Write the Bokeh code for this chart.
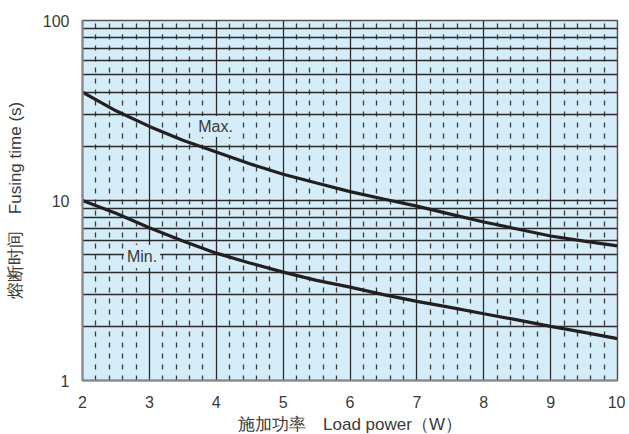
from bokeh.plotting import figure
from bokeh.models import FixedTicker, Grid, Label, Range1d
from bokeh.embed import file_html
from bokeh.resources import INLINE

power = [2, 2.5, 3, 3.5, 4, 4.5, 5, 5.5, 6, 6.5, 7, 7.5, 8, 8.5, 9, 9.5, 10]
t_max = [40, 31.5, 25.8, 21.6, 18.6, 16.0, 14.0, 12.5, 11.2, 10.2, 9.3, 8.4, 7.6, 6.95, 6.35, 5.95, 5.6]
t_min = [10, 8.5, 7.05, 5.95, 5.1, 4.5, 4.0, 3.6, 3.3, 3.0, 2.75, 2.55, 2.35, 2.17, 2.0, 1.85, 1.71]

x_ticks = [2, 3, 4, 5, 6, 7, 8, 9, 10]
x_minor = [round(2 + 0.2 * i, 1) for i in range(41) if i % 5 != 0]
y_ticks = [1, 10, 100]
y_grid = [1, 2, 3, 4, 5, 6, 7, 8, 9, 10, 20, 30, 40, 50, 60, 70, 80, 90, 100]

FONT = "Liberation Sans"
TXT = "#3a3a3a"

p = figure(frame_width=535, frame_height=360, y_axis_type="log",
           x_range=Range1d(2, 10), y_range=Range1d(1, 100),
           output_backend="svg", toolbar_location=None,
           min_border_left=82, min_border_right=8, min_border_top=20, min_border_bottom=46,
           background_fill_color="#d5edf8", border_fill_color="white")

p.xgrid.visible = False
p.ygrid.visible = False

vminor = Grid(dimension=0, ticker=FixedTicker(ticks=x_minor),
              grid_line_color="#3a3a3a", grid_line_width=1.3, grid_line_dash="5 6")
vmajor = Grid(dimension=0, ticker=FixedTicker(ticks=x_ticks),
              grid_line_color="#2a2a2a", grid_line_width=1.3)
hgrid = Grid(dimension=1, ticker=FixedTicker(ticks=y_grid),
             grid_line_color="#2a2a2a", grid_line_width=1.3)
for g in (vminor, hgrid, vmajor):
    p.add_layout(g, "center")

p.line(power, t_max, line_color="#231f20", line_width=3.2)
p.line(power, t_min, line_color="#231f20", line_width=3.2)

p.add_layout(Label(x=3.7, y=25.8, text="Max.", text_font=FONT, text_font_size="16px",
                   text_color=TXT, text_baseline="middle",
                   background_fill_color="#d5edf8", padding=2))
p.add_layout(Label(x=2.62, y=4.89, text="Min.", text_font=FONT, text_font_size="16px",
                   text_color=TXT, text_baseline="middle",
                   background_fill_color="#d5edf8", padding=3))

p.xaxis.ticker = FixedTicker(ticks=x_ticks)
p.yaxis.ticker = FixedTicker(ticks=y_ticks)
p.yaxis.major_label_overrides = {1: "1", 10: "10", 100: "100"}
for ax in (p.xaxis[0], p.yaxis[0]):
    ax.major_tick_line_color = None
    ax.minor_tick_line_color = None
    ax.axis_line_color = "#888888"
    ax.axis_line_width = 2
    ax.major_label_text_font = FONT
    ax.major_label_text_font_size = "16px"
    ax.major_label_text_color = TXT
    ax.axis_label_text_font = FONT
    ax.axis_label_text_font_size = "17px"
    ax.axis_label_text_color = TXT
    ax.axis_label_text_font_style = "normal"
p.xaxis.major_label_standoff = 9
p.yaxis.major_label_standoff = 7
p.xaxis.axis_label = "施加功率　Load power（W）"
p.yaxis.axis_label = "熔断时间　Fusing time (s)"
p.xaxis.axis_label_standoff = 4
p.yaxis.axis_label_standoff = 15
p.outline_line_color = "#555555"
p.outline_line_width = 1.5

open("out.html", "w").write(file_html(p, INLINE))
